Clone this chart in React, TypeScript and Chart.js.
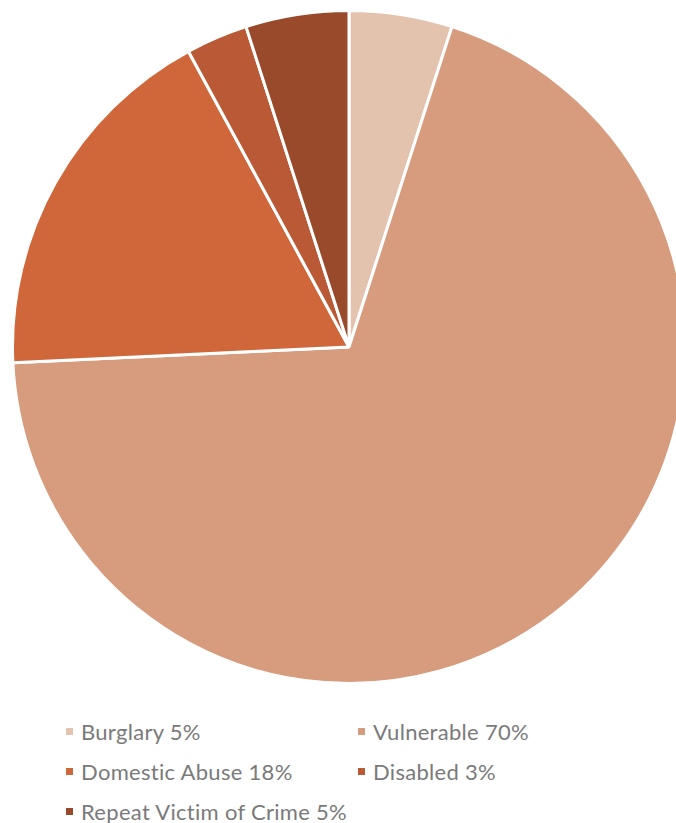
import React, { useEffect, useRef } from "react";
import { Chart, registerables } from "chart.js";

Chart.register(...registerables);

const categories = ["Burglary", "Vulnerable", "Domestic Abuse", "Disabled", "Repeat Victim of Crime"];
const values = [5, 70, 18, 3, 5];
const legendLabels = ["Burglary 5%", "Vulnerable 70%", "Domestic Abuse 18%", "Disabled 3%", "Repeat Victim of Crime 5%"];
const colors = ["#E3C3AE", "#D79B7D", "#D0673B", "#BA5935", "#994A2B"];

export default function App() {
  const canvasRef = useRef<HTMLCanvasElement | null>(null);

  useEffect(() => {
    document.body.style.margin = "0";
    document.body.style.overflow = "hidden";
    const ctx = canvasRef.current;
    if (!ctx) return;
    const chart = new Chart(ctx, {
      type: "pie",
      data: {
        labels: categories,
        datasets: [
          {
            data: values,
            backgroundColor: colors,
            borderColor: "#ffffff",
            borderWidth: 3,
          },
        ],
      },
      options: {
        animation: false,
        responsive: false,
        maintainAspectRatio: false,
        layout: { padding: 0 },
        plugins: {
          legend: { display: false },
          tooltip: { enabled: false },
        },
      },
    });
    return () => chart.destroy();
  }, []);

  const cols = [66, 358];
  const rows = [731, 771, 811];

  return (
    <div
      style={{
        position: "fixed",
        left: 0,
        top: 0,
        width: 676,
        height: 823,
        overflow: "hidden",
        background: "#ffffff",
      }}
    >
      <canvas
        ref={canvasRef}
        width={676}
        height={676}
        style={{ position: "absolute", left: 11, top: 8.5, width: 676, height: 676 }}
      />
      {legendLabels.map((t, i) => {
        const x = cols[i % 2];
        const y = rows[Math.floor(i / 2)];
        return (
          <div
            key={t}
            style={{
              position: "absolute",
              left: x,
              top: y - 15,
              height: 30,
              display: "flex",
              alignItems: "center",
              whiteSpace: "nowrap",
              fontFamily: "Lato, 'Open Sans', sans-serif",
              fontSize: 22,
              letterSpacing: 0.3,
              color: "#7a7a7a",
            }}
          >
            <span
              style={{
                display: "inline-block",
                width: 7,
                height: 7,
                background: colors[i],
                marginRight: 8,
              }}
            />
            <span>{t}</span>
          </div>
        );
      })}
    </div>
  );
}
